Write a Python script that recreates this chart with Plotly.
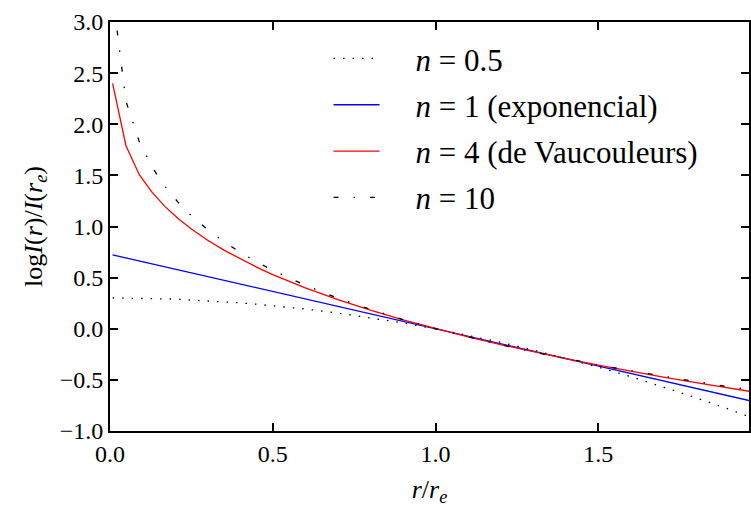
import plotly.graph_objects as go

# r / r_e sample positions
r_over_re = [0.008, 0.049, 0.09, 0.13, 0.17, 0.21, 0.25, 0.3, 0.35, 0.4, 0.45, 0.5,
             0.6, 0.7, 0.8, 0.9, 1.0, 1.1, 1.2, 1.3, 1.4, 1.5, 1.6, 1.7, 1.8, 1.9, 2.0]

# log I(r)/I(r_e)
n05 = [0.301, 0.300, 0.299, 0.296, 0.292, 0.288, 0.282, 0.274, 0.264, 0.253, 0.240, 0.226,
       0.193, 0.154, 0.108, 0.057, 0.0, -0.063, -0.132, -0.208, -0.289, -0.376, -0.469,
       -0.569, -0.674, -0.786, -0.903]
n1 = [0.723, 0.693, 0.663, 0.634, 0.605, 0.576, 0.547, 0.510, 0.474, 0.437, 0.401, 0.364,
      0.292, 0.219, 0.146, 0.073, 0.0, -0.073, -0.146, -0.219, -0.292, -0.364, -0.437,
      -0.510, -0.583, -0.656, -0.729]
n4 = [2.40, 1.79, 1.507, 1.331, 1.192, 1.076, 0.976, 0.866, 0.769, 0.682, 0.603, 0.530,
      0.399, 0.284, 0.181, 0.087, 0.0, -0.080, -0.155, -0.226, -0.292, -0.355, -0.415,
      -0.473, -0.527, -0.580, -0.630]
n10 = [3.271, 2.225, 1.828, 1.576, 1.387, 1.234, 1.105, 0.969, 0.852, 0.748, 0.655, 0.572,
       0.425, 0.299, 0.189, 0.090, 0.0, -0.082, -0.157, -0.227, -0.292, -0.354, -0.411,
       -0.466, -0.517, -0.566, -0.613]

labels = ["<i>n</i> = 0.5", "<i>n</i> = 1 (exponencial)",
          "<i>n</i> = 4 (de Vaucouleurs)", "<i>n</i> = 10"]

series = [
    (labels[0], n05, "black", "1.5px,8px"),
    (labels[1], n1, "#0000ff", "solid"),
    (labels[2], n4, "#ff0000", "solid"),
    (labels[3], n10, "black", "5px,15px,1.5px,15px"),
]

x_ticks = [0.0, 0.5, 1.0, 1.5]
y_ticks = [-1.0, -0.5, 0.0, 0.5, 1.0, 1.5, 2.0, 2.5, 3.0]

SERIF = "Liberation Serif, Times New Roman, serif"

fig = go.Figure()
for i, (name, ys, color, dash) in enumerate(series):
    fig.add_trace(go.Scatter(
        x=r_over_re, y=ys, mode="lines", name="\u00a0\u00a0\u00a0\u00a0" + name,
        legendgroup=f"g{i}",
        line=dict(color=color, width=1.3, dash=dash),
    ))

tickfont = dict(family=SERIF, size=24, color="black")
fig.update_layout(
    width=751, height=507,
    margin=dict(l=110, r=0, t=22, b=76),
    paper_bgcolor="white", plot_bgcolor="white",
    showlegend=True,
    legend=dict(
        x=0.342, y=0.976, xanchor="left", yanchor="top",
        bgcolor="rgba(0,0,0,0)", borderwidth=0,
        font=dict(family=SERIF, size=31, color="black"),
        tracegroupgap=3, itemwidth=46,
    ),
    xaxis=dict(
        range=[0, 1.963], tickvals=x_ticks, tickformat=".1f",
        ticks="inside", ticklen=8, tickwidth=1.5, tickcolor="black",
        showline=True, linewidth=2, linecolor="black", mirror="ticks",
        showgrid=False, zeroline=False, tickfont=tickfont,
        title=dict(text="<i>r</i>/<i>r</i><sub><i>e</i></sub>",
                   font=dict(family=SERIF, size=26, color="black"),
                   standoff=14),
    ),
    yaxis=dict(
        range=[-1.0, 3.0], tickvals=y_ticks, tickformat=".1f",
        ticks="inside", ticklen=8, tickwidth=1.5, tickcolor="black",
        showline=True, linewidth=2, linecolor="black", mirror="ticks",
        showgrid=False, zeroline=False, tickfont=tickfont,
        title=dict(text="log<i>I</i>(<i>r</i>)/<i>I</i>(<i>r</i><sub><i>e</i></sub>)",
                   font=dict(family=SERIF, size=26, color="black"),
                   standoff=10),
    ),
)

fig.write_html("out.html")
